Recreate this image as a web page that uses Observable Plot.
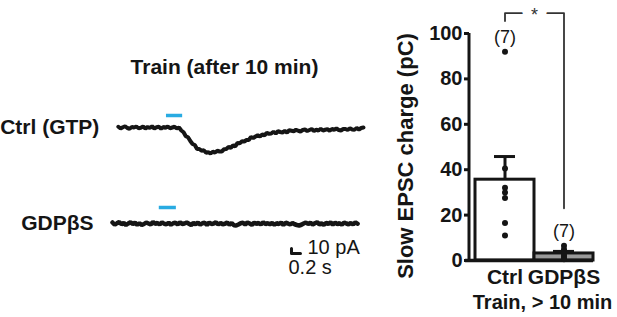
<!DOCTYPE html>
<html><head><meta charset="utf-8">
<script src="https://cdn.jsdelivr.net/npm/d3@7"></script>
<script src="https://cdn.jsdelivr.net/npm/@observablehq/plot@0.6"></script>
<style>
html,body{margin:0;padding:0;background:#fff;}
#chart{position:relative;width:617px;height:317px;overflow:hidden;background:#fff;}
#chart svg{position:absolute;left:0;top:0;overflow:visible;}
</style></head><body><div id="chart"></div>
<script>
// ---------- Left panel: example traces ----------
const panelTitle = "Train (after 10 min)";
const traceNames = ["Ctrl (GTP)", "GDPβS"];
const traceStart = [0.13, 0];        // s
const sampleStep = 0.05;             // s
const ctrlTrace = [
  1.5, -2, 0.5, 2.5, -1, -2.5, 1, 0, 2, -1.5,
  -0.5, 2, -2, 1, -1, 2.5, -2, 0.5, 1.5, -2.5,
  1, -0.5, 2, -1.5, 0, 1.5, -2, 0, -6, -9.5,
  -17.5, -19.5, -27, -33, -35, -43, -43, -46.5, -45.5, -50.5,
  -49.5, -52, -48.5, -50, -46.5, -48, -48, -43.5, -43, -39,
  -40.5, -36, -37.5, -31, -31.5, -27.5, -28, -25, -25, -19,
  -21, -18, -15.5, -18, -14, -15.5, -11, -12.5, -12, -8.5,
  -12, -7.5, -9, -10, -7, -10, -5.5, -6.5, -7.5, -4.5,
  -6.5, -8, -5, -4, -7, -5, -3, -7, -4.5, -6,
  -2.5, -6, -4.5, -3.5, -6.5, -3, -4.5, -2, -5, -6,
  -3, -3, -5, -1.5, -4, -4.5, -1, -4, -1, 0];                 // pA
const gdpTrace = [
  2, -2.5, 0.5, 3, -1.5, 1, -3, 0, 2.5, -1,
  1.5, -2.5, 0.5, -3, -1, 2, 0, -2, 3, -0.5,
  1, -2, 2.5, -0.5, -1.5, 1.5, -2.5, 0.5, 1.5, -2,
  2.5, -1, 0, 2, -0.5, -3, 1, -1.5, 2, -2.5,
  0.5, 1.5, -3, 2, -1, 0, 2.5, -2, 1, -1.5,
  -0.5, 2, -2.5, 1, -3.5, -4, -2, 0.5, 1.5, -2,
  2, 0, -2.5, 1.5, -0.5, 1, -2, 2.5, -1, 0.5,
  -1.5, 1, -2.5, 0.5, -1, 2, -3, 1.5, 0, -2,
  1, -1.5, -3, -4, -2.5, 0, 2, -1, 1.5, -2,
  0.5, 2.5, -1.5, 0, -2.5, 1, -0.5, 2, -2, 1.5,
  -1, 0.5, -2.5, 2, 0, -1.5, 1, -2, 2.5, -0.5];               // pA
const stimStart = [1.2, 1.04];       // s
const stimEnd = [1.56, 1.42];        // s
const stimLevel = [24, 32];          // pA (display level of light bar)
const scaleBarTime = 0.2;            // s
const scaleBarCurrent = 10;          // pA
const scaleBarOrigin = [3.98, -60];  // [s, pA]
const scaleBarLabels = ["10 pA", "0.2 s"];

// ---------- Right panel: bar chart ----------
const categories = ["Ctrl", "GDPβS"];
const meanCharge = [35.6, 3.1];
const semCharge = [10.2, 0.9];
const ctrlPoints = [92, 40.5, 32, 30, 27.5, 16.5, 11];
const gdpPoints = [6.5, 5, 4, 3, 2, 1, 0.5];
const yTicks = [0, 20, 40, 60, 80, 100];
const yTitle = "Slow EPSC charge (pC)";
const xTitle = "Train, > 10 min";
const sigLabel = "*";
const bracketTop = 109, bracketLeftEnd = 105.5, bracketRightEnd = 23;

const FONT = '"Liberation Sans", Arial, Helvetica, sans-serif';
const INK = "#151515";
const chart = document.getElementById("chart");

function tracePlot(k, values, marginTop, marginBottom, lineWidth, extra) {
  const rows = values.map((v, i) => ({t: traceStart[k] + i * sampleStep, I: v}));
  return Plot.plot({
    width: 617, height: 317,
    marginLeft: 112, marginRight: 259, marginTop, marginBottom,
    x: {domain: [0, 5.47], axis: null},
    y: {domain: [-62, 62], axis: null},
    style: {background: "transparent", fontFamily: FONT, overflow: "visible"},
    marks: [
      Plot.ruleY([{s: stimStart[k], e: stimEnd[k], level: stimLevel[k]}],
        {x1: "s", x2: "e", y: "level", stroke: "#29abe2", strokeWidth: 3.5}),
      Plot.line(rows, {x: "t", y: "I", stroke: INK, strokeWidth: lineWidth, strokeLinejoin: "miter"}),
      Plot.text([{t: traceStart[k], name: traceNames[k]}],
        {x: "t", y: () => 0, text: "name", dx: -19, textAnchor: "end", lineAnchor: "middle",
         fontSize: 21, fontWeight: "bold", fill: INK}),
      ...extra
    ]
  });
}

const [sx, sy] = scaleBarOrigin;
const scaleBar = [
  {t: sx, I: sy + scaleBarCurrent},
  {t: sx, I: sy},
  {t: sx + scaleBarTime, I: sy}
];

const p1 = tracePlot(0, ctrlTrace, 96, 159, 4, [
  Plot.text([panelTitle], {frameAnchor: "top", dx: -11, dy: -29, lineAnchor: "middle",
    fontSize: 21, fontWeight: "bold", fill: INK})
]);
const p2 = tracePlot(1, gdpTrace, 192, 63, 4.5, [
  Plot.line(scaleBar, {x: "t", y: "I", stroke: INK, strokeWidth: 3}),
  Plot.text([{t: sx + scaleBarTime, I: sy + scaleBarCurrent, label: scaleBarLabels[0]}],
    {x: "t", y: "I", text: "label", dx: 7, dy: -1, textAnchor: "start", lineAnchor: "middle", fontSize: 20, fill: INK}),
  Plot.text([{t: sx, I: sy, label: scaleBarLabels[1]}],
    {x: "t", y: "I", text: "label", dx: -3, dy: 14, textAnchor: "start", lineAnchor: "middle", fontSize: 20, fill: INK})
]);

// bar chart
const bars = categories.map((c, i) => ({cat: c, mean: meanCharge[i], sem: semCharge[i]}));
const pointSets = [ctrlPoints, gdpPoints];
const pts = categories.flatMap((c, i) => pointSets[i].map(v => ({cat: c, v})));
const nLabels = categories.map((c, i) => ({cat: c, top: d3.max(pointSets[i]), n: pointSets[i].length}));
const bracket = [
  {cat: categories[0], v: bracketLeftEnd},
  {cat: categories[0], v: bracketTop},
  {cat: categories[1], v: bracketTop},
  {cat: categories[1], v: bracketRightEnd}
];
const marginLeftR = 469, marginRightR = 24, insetR = 6;
const bandW = (617 - marginLeftR - marginRightR - insetR) / categories.length;

const p3 = Plot.plot({
  width: 617, height: 317,
  marginLeft: marginLeftR, marginRight: marginRightR, marginTop: 33, marginBottom: 57,
  x: {domain: categories, padding: 0, insetLeft: insetR, axis: null},
  y: {domain: [0, 100], ticks: yTicks, tickSize: 5, tickPadding: 2, label: null},
  style: {background: "transparent", fontFamily: FONT, fontSize: "20px", fontWeight: "bold", color: INK, overflow: "visible"},
  marks: [
    Plot.barY(bars.slice(0, 1), {x: "cat", y: "mean", fill: "#ffffff", stroke: INK, strokeWidth: 3}),
    Plot.barY(bars.slice(1), {x: "cat", y: "mean", fill: "#9a9a9a", stroke: INK, strokeWidth: 3}),
    Plot.ruleX(bars, {x: "cat", y1: "mean", y2: d => d.mean + d.sem, stroke: INK, strokeWidth: 3}),
    Plot.tickY(bars, {x: "cat", y: d => d.mean + d.sem, stroke: INK, strokeWidth: 3, inset: 19}),
    Plot.ruleY([0], {stroke: INK, strokeWidth: 3.5, insetLeft: -4}),
    Plot.ruleX([categories[0]], {x: d => d, y1: () => 0, y2: () => 100, dx: -(bandW / 2 + insetR) - 0.5, stroke: INK, strokeWidth: 3}),
    Plot.dot(pts, {x: "cat", y: "v", r: 3, fill: INK}),
    Plot.text(nLabels, {x: "cat", y: "top", text: d => `(${d.n})`, dy: -14.5, lineAnchor: "middle",
      fontSize: 18, fontWeight: "normal", fill: INK}),
    Plot.line(bracket, {x: "cat", y: "v", stroke: "#333", strokeWidth: 1.8}),
    Plot.text([sigLabel], {x: () => categories[0], y: () => bracketTop, dx: bandW / 2, dy: 2.5, lineAnchor: "middle",
      fontSize: 18, fontWeight: "normal", fill: "#333", stroke: "white", strokeWidth: 18}),
    Plot.text(categories, {x: d => d, frameAnchor: "bottom", dy: 17, lineAnchor: "middle",
      fontSize: 21, fontWeight: "bold", fill: INK}),
    Plot.text([xTitle], {frameAnchor: "bottom", dx: 11, dy: 42, lineAnchor: "middle", textAnchor: "middle",
      fontSize: 20, fontWeight: "bold", fill: INK}),
    Plot.text([yTitle], {frameAnchor: "left", rotate: -90, dx: -64, dy: 9, textAnchor: "middle", lineAnchor: "middle",
      fontSize: 22, fontWeight: "bold", fill: INK})
  ]
});
d3.select(p3).selectAll('[aria-label^="y-axis"] line, [aria-label^="y-axis"] path').attr("stroke-width", 3);

chart.append(p1, p2, p3);
</script></body></html>
